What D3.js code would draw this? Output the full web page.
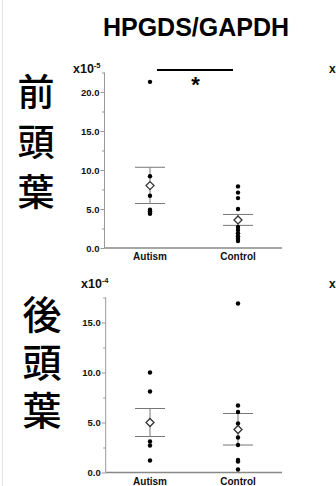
<!DOCTYPE html>
<html><head><meta charset="utf-8">
<script src="https://cdn.jsdelivr.net/npm/d3@7"></script>
<style>body{margin:0;background:#fff}svg{display:block}</style>
</head><body>
<script>
// ---- data ----
const categories = ["Autism", "Control"];
const title = "HPGDS/GAPDH";
const regionTop = "前頭葉";
const regionBottom = "後頭葉";
// frontal lobe (x10^-5)
const frontalAutism = [21.3, 9.2, 6.7, 4.9, 4.7, 4.5, 4.4];
const frontalControl = [7.9, 7.1, 6.4, 5.0, 3.5, 2.7, 2.3, 1.9, 1.5, 1.2, 0.9];
const frontalMean = [8.0, 3.6];
const frontalUpper = [10.35, 4.3];
const frontalLower = [5.7, 2.9];
const frontalTicks = [0, 5, 10, 15, 20];
const frontalMax = 22.5;
// occipital lobe (x10^-4)
const occipAutism = [10.0, 8.1, 5.0, 3.1, 2.7, 1.2];
const occipControl = [16.9, 6.7, 6.05, 4.9, 3.5, 2.75, 1.25, 1.1, 0.3];
const occipMean = [5.0, 4.3];
const occipUpper = [6.4, 5.9];
const occipLower = [3.6, 2.75];
const occipTicks = [0, 5, 10, 15];
const occipMax = 17.5;

const W = 336, H = 486;
const svg = d3.select("body").append("svg").attr("width", W).attr("height", H);

// faint left border line
svg.append("line").attr("x1", 2.5).attr("x2", 2.5).attr("y1", 0).attr("y2", H)
  .attr("stroke", "#e4e4e4").attr("stroke-width", 1);

svg.append("text").attr("x", 196).attr("y", 36).attr("text-anchor", "middle")
  .attr("font-family", "Liberation Sans, Arial, sans-serif").attr("font-weight", "bold")
  .attr("font-size", 25).text(title);

function vertLabel(str, cx, top, size, spacing) {
  svg.append("text").attr("x", cx).attr("y", top)
    .style("writing-mode", "vertical-rl").style("letter-spacing", spacing + "px")
    .attr("font-family", "Noto Sans CJK JP, sans-serif").attr("font-weight", 500)
    .attr("font-size", size).attr("fill", "#000").text(str);
}
vertLabel(regionTop, 36, 73, 37, 13);
vertLabel(regionBottom, 42, 295, 39, 9);

const x = d3.scalePoint().domain(categories).range([150, 238]);

function panel(opts) {
  const y = d3.scaleLinear().domain([0, opts.max]).range([opts.y0, opts.y1]);
  const g = svg.append("g");
  // minor ticks
  const minor = d3.range(2.5, opts.max + 0.01, 5);
  g.append("g").attr("transform", `translate(${opts.ax},0)`)
    .call(d3.axisLeft(y).tickValues(minor).tickSize(2.5).tickFormat(""))
    .call(s => s.select(".domain").remove())
    .call(s => s.selectAll("line").attr("stroke", "#999"));
  const ax = g.append("g").attr("transform", `translate(${opts.ax},0)`)
    .call(d3.axisLeft(y).tickValues(opts.ticks).tickSize(4).tickPadding(1).tickFormat(d3.format(".1f")));
  ax.select(".domain").attr("stroke", "#999").attr("d", `M0,${opts.y0}V${y(opts.max)}`);
  ax.selectAll(".tick line").attr("stroke", "#999");
  ax.selectAll("text").attr("font-family", "Liberation Sans, Arial, sans-serif")
    .attr("font-weight", "bold").attr("font-size", 9.5).attr("fill", "#111");
  // baseline
  g.append("line").attr("x1", opts.ax).attr("x2", 282).attr("y1", opts.y0).attr("y2", opts.y0)
    .attr("stroke", "#888").attr("stroke-width", 1.6);
  // exponent label
  const t = g.append("text").attr("x", opts.lx).attr("y", opts.ly)
    .attr("font-family", "Liberation Sans, Arial, sans-serif").attr("font-weight", "bold")
    .attr("font-size", 12.5).attr("fill", "#111");
  t.append("tspan").text("x10");
  t.append("tspan").attr("dy", -5).attr("font-size", 7.5).text(opts.exp);
  // category labels
  categories.forEach(c => {
    g.append("text").attr("x", x(c)).attr("y", opts.y0 + 12).attr("text-anchor", "middle")
      .attr("font-family", "Liberation Sans, Arial, sans-serif").attr("font-weight", "bold")
      .attr("font-size", 10).attr("fill", "#111").text(c);
  });
  // error bars
  categories.forEach((c, i) => {
    const cx = x(c);
    g.append("line").attr("x1", cx).attr("x2", cx).attr("y1", y(opts.lower[i])).attr("y2", y(opts.upper[i]))
      .attr("stroke", "#777").attr("stroke-width", 1);
    [opts.lower[i], opts.upper[i]].forEach(v => {
      g.append("line").attr("x1", cx - 15).attr("x2", cx + 15).attr("y1", y(v)).attr("y2", y(v))
        .attr("stroke", "#777").attr("stroke-width", 1);
    });
  });
  // points
  opts.series.forEach((vals, i) => {
    g.selectAll(null).data(vals).enter().append("circle")
      .attr("cx", x(categories[i])).attr("cy", d => y(d)).attr("r", 2.2).attr("fill", "#000");
  });
  // mean diamonds
  opts.mean.forEach((m, i) => {
    const cx = x(categories[i]), cy = y(m), s = 4;
    g.append("path").attr("d", `M${cx},${cy - s}L${cx + s},${cy}L${cx},${cy + s}L${cx - s},${cy}Z`)
      .attr("fill", "#fff").attr("stroke", "#333").attr("stroke-width", 1.3);
  });
  // partially visible neighbour label on the right edge
  g.append("text").attr("x", 329).attr("y", opts.ly)
    .attr("font-family", "Liberation Sans, Arial, sans-serif").attr("font-weight", "bold")
    .attr("font-size", 12).attr("fill", "#111").text("x");
  return y;
}

panel({ max: frontalMax, y0: 248, y1: 72.5, ax: 104.5, ticks: frontalTicks,
  series: [frontalAutism, frontalControl], mean: frontalMean, upper: frontalUpper, lower: frontalLower,
  lx: 73, ly: 73, exp: "-5" });
panel({ max: occipMax, y0: 472.5, y1: 297.5, ax: 105.7, ticks: occipTicks,
  series: [occipAutism, occipControl], mean: occipMean, upper: occipUpper, lower: occipLower,
  lx: 81, ly: 288, exp: "-4" });

// significance
svg.append("line").attr("x1", 157).attr("x2", 233).attr("y1", 70).attr("y2", 70)
  .attr("stroke", "#000").attr("stroke-width", 2);
svg.append("text").attr("x", 195.5).attr("y", 92).attr("text-anchor", "middle")
  .attr("font-family", "Liberation Sans, Arial, sans-serif").attr("font-weight", "bold")
  .attr("font-size", 22).text("*");
</script>
</body></html>
